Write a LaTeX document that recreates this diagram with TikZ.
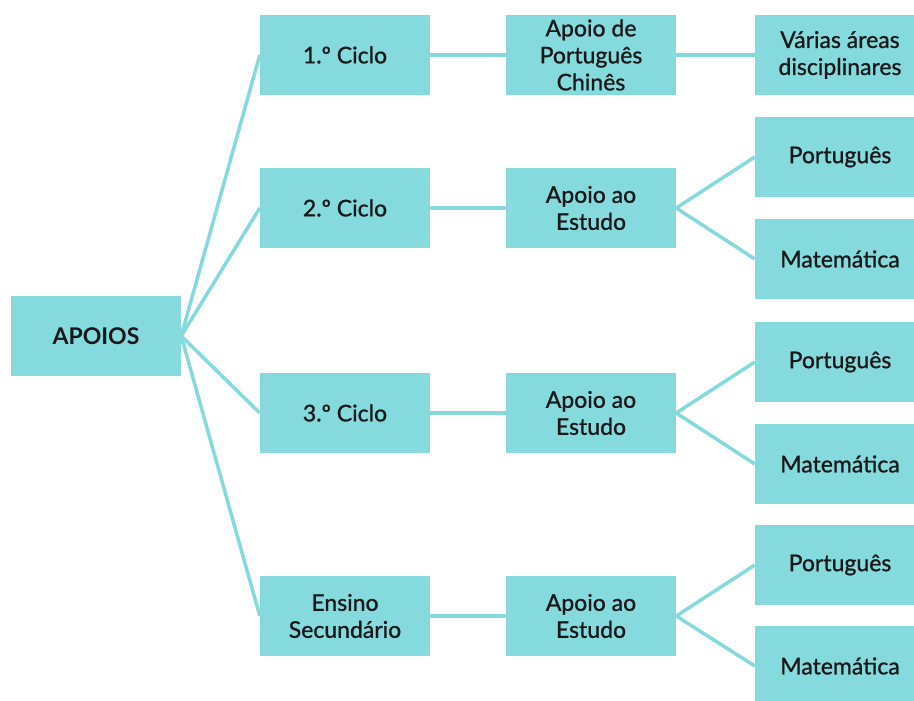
\documentclass[tikz,border=0pt]{standalone}
\usepackage{fontspec}
\setmainfont{Lato}
\newfontface\medio{Lato}[FakeBold=1]
\definecolor{turq}{HTML}{84DADD}
\tikzset{
  caixa/.style={rectangle, fill=turq, minimum width=170pt, minimum height=80pt, inner sep=0pt, align=center, font=\fontsize{23}{27}\selectfont\medio, text=black!90},
  liga/.style={draw=turq, line width=3.5pt}
}
\begin{document}
\begin{tikzpicture}[x=1pt,y=-1pt]
\useasboundingbox (0,0) rectangle (914,701);
\clip (0,0) rectangle (914,701);
\node[caixa, font=\fontsize{23}{27}\selectfont\bfseries] (apoios) at (96,336){APOIOS};
\node[caixa] (c1) at (345,55){1.º Ciclo};
\node[caixa] (c2) at (345,208){2.º Ciclo};
\node[caixa] (c3) at (345,413){3.º Ciclo};
\node[caixa] (c4) at (345,616){Ensino\\Secundário};
\node[caixa] (a1) at (591,55){Apoio de\\Português\\Chinês};
\node[caixa] (a2) at (591,208){Apoio ao\\Estudo};
\node[caixa] (a3) at (591,413){Apoio ao\\Estudo};
\node[caixa] (a4) at (591,616){Apoio ao\\Estudo};
\node[caixa] (d1) at (840,55){Várias áreas\\disciplinares};
\node[caixa] (d2) at (840,157){Português};
\node[caixa] (d3) at (840,259){Matemática};
\node[caixa] (d4) at (840,362){Português};
\node[caixa] (d5) at (840,464){Matemática};
\node[caixa] (d6) at (840,565){Português};
\node[caixa] (d7) at (840,666){Matemática};
\draw[liga](apoios.east) -- (c1.west);
\draw[liga](apoios.east) -- (c2.west);
\draw[liga](apoios.east) -- (c3.west);
\draw[liga](apoios.east) -- (c4.west);
\draw[liga](c1) -- (a1);
\draw[liga](c2) -- (a2);
\draw[liga](c3) -- (a3);
\draw[liga](c4) -- (a4);
\draw[liga](a1) -- (d1);
\draw[liga](a2.east) -- (d2.west);
\draw[liga](a2.east) -- (d3.west);
\draw[liga](a3.east) -- (d4.west);
\draw[liga](a3.east) -- (d5.west);
\draw[liga](a4.east) -- (d6.west);
\draw[liga](a4.east) -- (d7.west);
\end{tikzpicture}
\end{document}
